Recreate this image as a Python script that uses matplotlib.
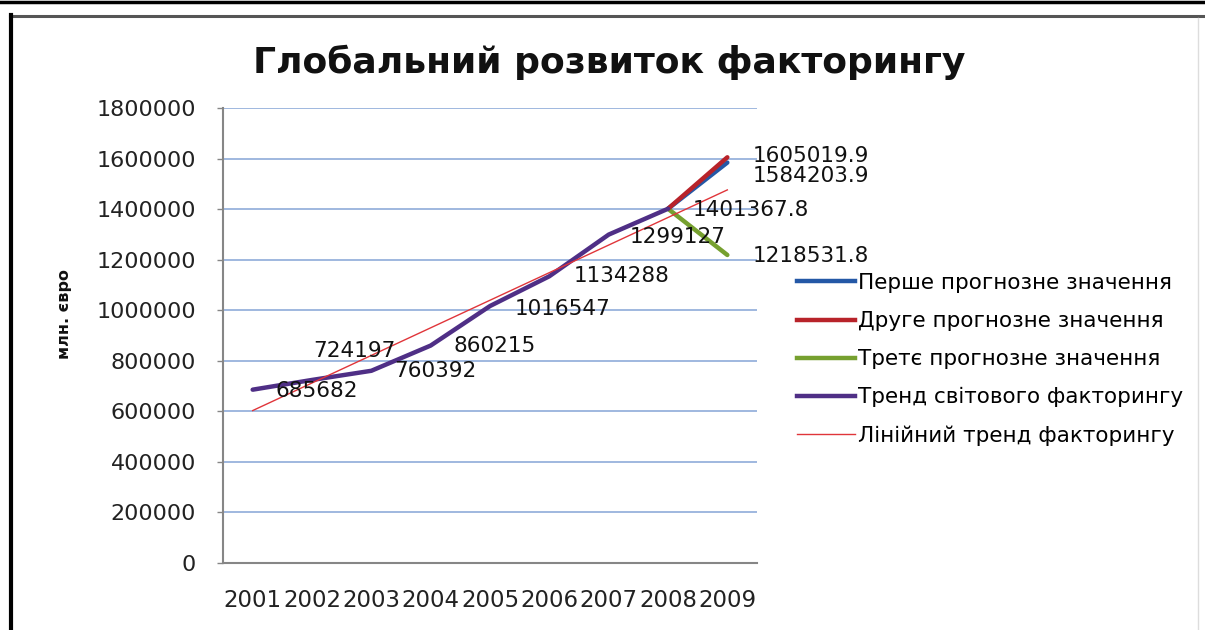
import matplotlib
matplotlib.use("Agg")
import matplotlib.pyplot as plt
from matplotlib.lines import Line2D

plt.rcParams['font.family'] = ['DejaVu Sans']

years = ["2001", "2002", "2003", "2004", "2005", "2006", "2007", "2008", "2009"]
trend_world = [685682, 724197, 760392, 860215, 1016547, 1134288, 1299127, 1401367.8]
forecast_first = [1401367.8, 1584203.9]
forecast_second = [1401367.8, 1605019.9]
forecast_third = [1401367.8, 1218531.8]
linear_trend = [603000, 1476000]
yticks = [0, 200000, 400000, 600000, 800000, 1000000, 1200000, 1400000, 1600000, 1800000]

title = "Глобальний розвиток факторингу"
ylabel = "млн. євро"
names = ["Перше прогнозне значення", "Друге прогнозне значення",
         "Третє прогнозне значення", "Тренд світового факторингу",
         "Лінійний тренд факторингу"]

c_blue = "#2458a6"
c_red = "#b8232a"
c_green = "#76a02f"
c_purple = "#4f2f86"
c_trend = "#e0353a"
c_grid = "#97b2dc"

W, H = 1205, 630
fig = plt.figure(figsize=(W / 100, H / 100), dpi=100)
L, R, T, B = 223, 757, 108, 563
ax = fig.add_axes([L / W, 1 - B / H, (R - L) / W, (B - T) / H])

x_all = list(range(len(years)))
x_trend = x_all[:len(trend_world)]
x_fc = [7, 8]

ax.plot(x_fc, forecast_first, color=c_blue, lw=3.2, solid_capstyle='round', zorder=3)
ax.plot(x_fc, forecast_second, color=c_red, lw=3.2, solid_capstyle='round', zorder=4)
ax.plot(x_fc, forecast_third, color=c_green, lw=3.2, solid_capstyle='round', zorder=3)
ax.plot(x_trend, trend_world, color=c_purple, lw=3.2, solid_capstyle='round', zorder=5)
ax.plot([x_all[0], x_all[-1]], linear_trend, color=c_trend, lw=1.0, zorder=6)

ax.set_xlim(-0.5, len(years) - 0.5)
ax.set_ylim(0, 1800000)
ax.set_yticks(yticks)
ax.set_yticklabels([str(v) for v in yticks])
ax.set_xticks(x_all)
ax.set_xticklabels(years)
ax.tick_params(axis='y', length=4, width=1, color="#868686", pad=15.5, labelsize=16, labelcolor="#222222")
ax.tick_params(axis='x', length=0, pad=19, labelsize=16.5, labelcolor="#222222")
ax.grid(axis='y', color=c_grid, lw=1.3)
ax.set_axisbelow(True)
for s in ["top", "right"]:
    ax.spines[s].set_visible(False)
for s in ["left", "bottom"]:
    ax.spines[s].set_color("#868686")
    ax.spines[s].set_linewidth(1.5)

# data labels: (x, value, offset px)
label_specs = [
    (0, trend_world[0], (23, -1)),
    (1, trend_world[1], (1, 29)),
    (2, trend_world[2], (23, 0)),
    (3, trend_world[3], (23, 0)),
    (4, trend_world[4], (25, -3)),
    (5, trend_world[5], (24, 0)),
    (6, trend_world[6], (21, -2)),
    (7, trend_world[7], (25, -1)),
    (8, forecast_second[1], (25, 1)),
    (8, forecast_first[1], (25, -13)),
    (8, forecast_third[1], (25, -1)),
]
for xi, v, off in label_specs:
    txt = ("%.1f" % v) if v != int(v) else str(int(v))
    ax.annotate(txt, (xi, v), xytext=off, textcoords='offset pixels',
                ha='left', va='center', fontsize=15.5, color="#111111", zorder=7,
                annotation_clip=False, linespacing=1.0)

handles = [Line2D([], [], color=c, lw=lw) for c, lw in
           [(c_blue, 3.2), (c_red, 3.2), (c_green, 3.2), (c_purple, 3.2), (c_trend, 1.0)]]
fig.legend(handles, names, loc='upper left', bbox_to_anchor=(797 / W, 1 - 273 / H),
           frameon=False, fontsize=15.5, handlelength=2.7, handletextpad=0.13,
           labelspacing=0.84, borderaxespad=0, borderpad=0)

fig.text(609 / W, 1 - 62 / H, title, ha='center', va='center', fontsize=26,
         fontweight='bold', color="#111111")
fig.text(64 / W, 1 - 314 / H, ylabel, ha='center', va='center', rotation=90,
         fontsize=11.5, fontweight='bold', color="#111111")

# frame lines
fig.add_artist(Line2D([0, 1], [1 - 1.5 / H, 1 - 1.5 / H], color="black", lw=2.5))
fig.add_artist(Line2D([10 / W, 1], [1 - 16 / H, 1 - 16 / H], color="#555555", lw=2.2))
fig.add_artist(Line2D([10.5 / W, 10.5 / W], [0, 1 - 15 / H], color="black", lw=3))
fig.add_artist(Line2D([1198 / W, 1198 / W], [0, 1 - 18 / H], color="#dddddd", lw=1))

fig.savefig("out.png", dpi=100)
